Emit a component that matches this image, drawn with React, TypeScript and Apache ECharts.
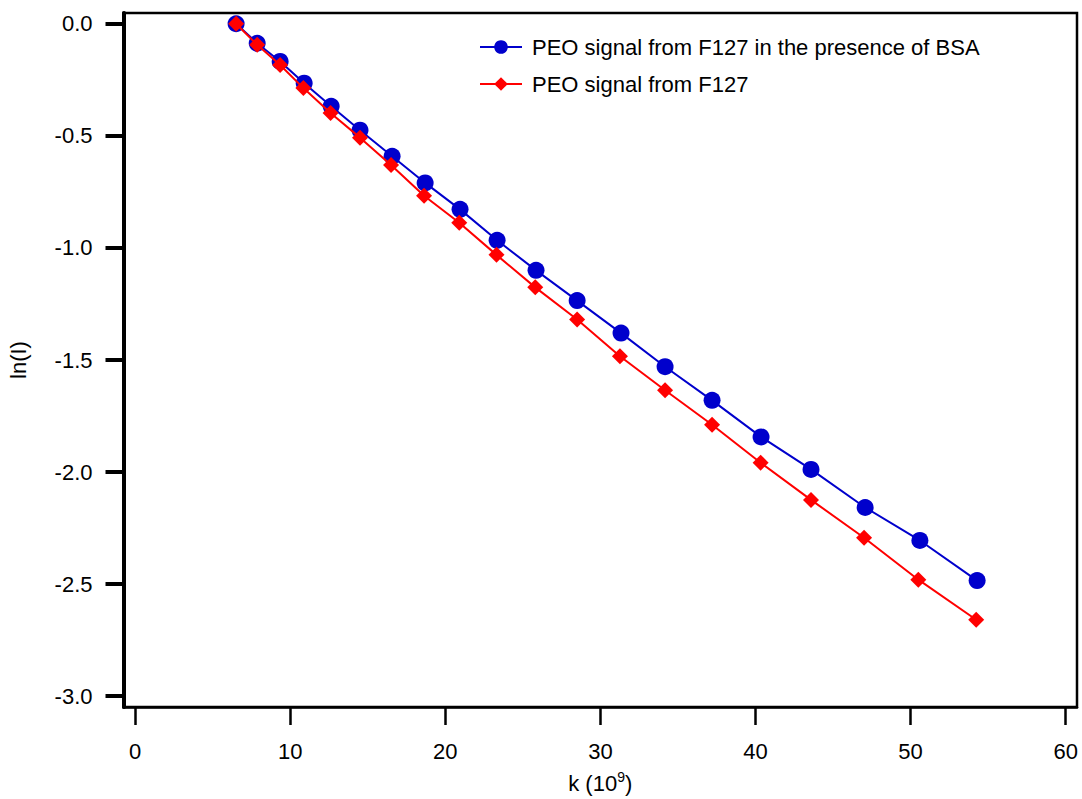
import React, { useEffect, useRef } from "react";
import * as echarts from "echarts";

const kBSA = [6.51, 7.87, 9.35, 10.9, 12.64, 14.5, 16.57, 18.7, 20.95, 23.34, 25.85, 28.5, 31.33, 34.17, 37.2, 40.36, 43.58, 47.07, 50.6, 54.29];
const lnBSA = [0.0, -0.087, -0.168, -0.265, -0.368, -0.475, -0.591, -0.71, -0.828, -0.966, -1.1, -1.235, -1.38, -1.53, -1.68, -1.843, -1.988, -2.158, -2.305, -2.484];
const kF127 = [6.51, 7.87, 9.35, 10.85, 12.6, 14.5, 16.5, 18.63, 20.9, 23.3, 25.8, 28.5, 31.26, 34.17, 37.2, 40.33, 43.58, 47.0, 50.5, 54.23];
const lnF127 = [0.0, -0.094, -0.184, -0.287, -0.398, -0.508, -0.63, -0.767, -0.888, -1.031, -1.176, -1.319, -1.483, -1.635, -1.789, -1.958, -2.124, -2.293, -2.48, -2.659];
const xTicks = [0, 10, 20, 30, 40, 50, 60];
const yTicks = [-3.0, -2.5, -2.0, -1.5, -1.0, -0.5, 0.0];
const nameBSA = "PEO signal from F127 in the presence of BSA";
const nameF127 = "PEO signal from F127";

const FONT = "'Liberation Sans', Arial, sans-serif";

export default function App() {
  const ref = useRef<HTMLDivElement>(null);
  useEffect(() => {
    if (!ref.current) return;
    const chart = echarts.init(ref.current, undefined, { renderer: "svg" });
    chart.setOption({
      animation: false,
      backgroundColor: "#fff",
      textStyle: { fontFamily: FONT },
      grid: {
        left: 123.5,
        right: 5,
        top: 13,
        bottom: 92,
        containLabel: false,
        outerBoundsMode: "none",
        show: true,
        borderColor: "#000",
        borderWidth: 2.5,
      },
      legend: {
        orient: "vertical",
        left: 474,
        top: 31,
        itemWidth: 42,
        itemHeight: 17,
        itemGap: 15,
        textStyle: { fontSize: 22, lineHeight: 22, color: "#000", fontFamily: FONT, padding: [0, 0, 0, 5] },
        data: [nameBSA, nameF127],
      },
      xAxis: {
        type: "value",
        min: -0.75,
        max: 60.73,
        splitLine: { show: false },
        axisLine: { show: true, onZero: false, lineStyle: { color: "#000", width: 2.5 } },
        axisTick: { show: true, inside: false, length: 18, lineStyle: { color: "#000", width: 2.5 }, customValues: xTicks },
        axisLabel: { fontSize: 22, color: "#000", margin: 33, fontFamily: FONT, customValues: xTicks },
        name: "k (10{sup|9})",
        nameLocation: "middle",
        nameGap: 63,
        nameTextStyle: {
          fontSize: 22,
          color: "#000",
          fontFamily: FONT,
          rich: { sup: { fontSize: 14, color: "#000", fontFamily: FONT, verticalAlign: "bottom", padding: [0, 0, 12, 0] } },
        },
      },
      yAxis: {
        type: "value",
        min: -3.048,
        max: 0.048,
        splitLine: { show: false },
        axisLine: { show: true, onZero: false, lineStyle: { color: "#000", width: 4 } },
        axisTick: { show: true, inside: false, length: 18, lineStyle: { color: "#000", width: 4 }, customValues: yTicks },
        axisLabel: {
          fontSize: 22,
          color: "#000",
          margin: 31,
          fontFamily: FONT,
          customValues: yTicks,
          formatter: (v: number) => v.toFixed(1),
        },
        name: "ln(I)",
        nameLocation: "middle",
        nameRotate: 90,
        nameGap: 94,
        nameTextStyle: { fontSize: 22, color: "#000", fontFamily: FONT },
      },
      series: [
        {
          name: nameBSA,
          type: "line",
          data: kBSA.map((k, i) => [k, lnBSA[i]]),
          symbol: "circle",
          symbolSize: 17,
          lineStyle: { color: "#0000cc", width: 2 },
          itemStyle: { color: "#0000cc" },
          z: 2,
        },
        {
          name: nameF127,
          type: "line",
          data: kF127.map((k, i) => [k, lnF127[i]]),
          symbol: "diamond",
          symbolSize: 16,
          lineStyle: { color: "#ff0000", width: 2 },
          itemStyle: { color: "#ff0000" },
          z: 3,
        },
      ],
    });
    return () => chart.dispose();
  }, []);
  return (
    <div
      ref={ref}
      style={{ position: "absolute", left: 0, top: 0, width: 1082, height: 799, background: "#fff" }}
    />
  );
}
